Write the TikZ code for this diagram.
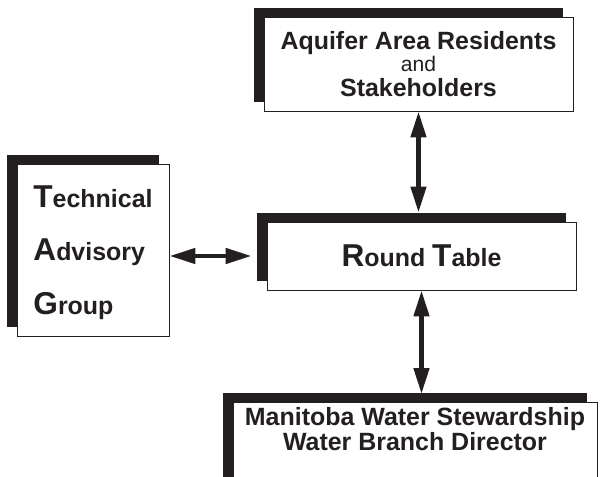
\documentclass[tikz,border=0pt]{standalone}
\usepackage{fontspec}
\setmainfont{Liberation Sans}
\usetikzlibrary{arrows.meta,shadows}

\definecolor{ink}{RGB}{35,31,32}
\newcommand{\bigini}[1]{{\fontsize{18}{18}\selectfont #1}}

\begin{document}
\begin{tikzpicture}[x=0.02cm,y=-0.02cm]
	\tikzstyle{every node}=[inner sep=0.1cm, text=ink, font=\fontsize{14.2}{14.2}\selectfont\bfseries]
	\tikzstyle{box}=[draw=ink, line width=0.5pt, fill=white, general shadow={fill=ink, shadow xshift=-0.2cm, shadow yshift=0.18cm}]
	\tikzstyle{link}=[{Triangle[length=0.52cm,width=0.3cm]}-{Triangle[length=0.52cm,width=0.3cm]}, line width=0.09cm, draw=ink]
	\useasboundingbox[fill=white] (0,0) rectangle (600,477);
	\draw (418.5,64) node (residents) [box, minimum width=6.18cm, minimum height=1.88cm, align=center]
		{Aquifer Area Residents\\[-1.7pt]{\fontsize{12}{12}\selectfont\mdseries and}\\Stakeholders};
	\draw (421.5,256) node (table) [box, minimum width=6.18cm, minimum height=1.36cm]
		{\bigini{R}ound \bigini{T}able};
	\draw (93,250) node (tag) [box, minimum width=3.04cm, minimum height=3.44cm, align=left, text depth=0pt]
		{\bigini{T}echnical\\[16pt]\bigini{A}dvisory\\[14.5pt]\bigini{G}roup};
	\draw (415,402) node (director) [box, anchor=north, minimum width=7.28cm, align=center, text depth=2cm]
		{Manitoba Water Stewardship\\Water Branch Director};
	\draw[link] (residents.south) -- ([yshift=0.18cm]residents.south |- table.north);
	\draw[link] (table.south) -- ([yshift=0.16cm]table.south |- director.north);
	\draw[link] (tag.east |- table.west) -- ([xshift=-0.3cm]table.west);
\end{tikzpicture}
\end{document}
